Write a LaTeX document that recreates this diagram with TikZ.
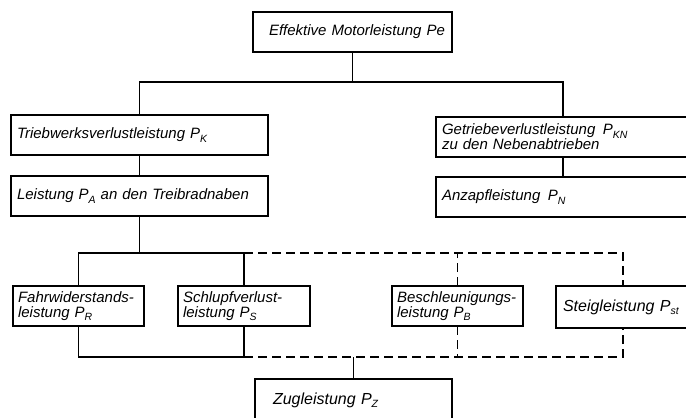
\documentclass[tikz,border=0pt]{standalone}
\usepackage{fontspec}
\newfontfamily\letfam{Liberation Sans}
\newcommand\lettfont{\fontsize{15}{15}\selectfont\letfam\itshape}
\newcommand\lowi[1]{\raisebox{-0.4ex}{\fontsize{10.5}{10.5}\selectfont #1}}
\tikzset{
  box/.style={draw, line width=2.2pt, anchor=north west, inner xsep=6pt,
    inner ysep=0pt, outer sep=0pt, align=left, font=\lettfont},
  conn/.style={line width=1.4pt},
  dconn/.style={line width=1.4pt, dash pattern=on 9pt off 5pt},
}
\begin{document}
\begin{tikzpicture}[x=1pt,y=-1pt]
\useasboundingbox (0,0) rectangle (686,418);
\clip (0,0) rectangle (686,418);
% boxes
\node[box, inner xsep=0pt, text width=199pt, minimum height=40pt] (pe) at (253,12)
  {\hspace*{16pt}\mbox{Effektive Motorleistung Pe}};
\node[box, text width=245pt, minimum height=40pt] (pk) at (11,115)
  {\mbox{Triebwerksverlustleistung P\lowi{K}}};
\node[box, text width=242pt, minimum height=40pt] (pkn) at (436,117)
  {\mbox{Getriebeverlustleistung\enspace P\lowi{KN}}\\\mbox{zu den Nebenabtrieben}};
\node[box, text width=245pt, minimum height=40pt] (pa) at (11,176)
  {\mbox{Leistung P\lowi{A} an den Treibradnaben}};
\node[box, text width=242pt, minimum height=40pt] (pn) at (436,177)
  {\mbox{Anzapfleistung\enspace P\lowi{N}}};
\node[box, inner xsep=5pt, text width=121pt, minimum height=40pt] (pr) at (13,286)
  {\mbox{Fahrwiderstands-}\\\mbox{leistung P\lowi{R}}};
\node[box, inner xsep=5pt, text width=122pt, minimum height=40pt] (ps) at (178,286)
  {\mbox{Schlupfverlust-}\\\mbox{leistung P\lowi{S}}};
\node[box, inner xsep=5pt, text width=121pt, minimum height=40pt] (pb) at (392,286)
  {\mbox{Beschleunigungs-}\\\mbox{leistung P\lowi{B}}};
\node[box, inner xsep=7pt, text width=120pt, minimum height=42pt,
  font=\fontsize{16}{16}\selectfont\letfam\itshape] (pst) at (556,286)
  {\mbox{Steigleistung P\lowi{st}}};
\node[box, inner xsep=18pt, text width=161pt, minimum height=43pt,
  font=\fontsize{16}{16}\selectfont\letfam\itshape] (pz) at (255,379)
  {\mbox{Zugleistung P\lowi{Z}}};
% levels
\coordinate (h1) at (0,82);
\coordinate (h2) at (0,253);
\coordinate (h3) at (0,357);
% connectors
\draw[conn] (pe.south) -- (pe.south |- h1);
\draw[conn] (pk.north) -- (pk.north |- h1) -- (pkn.north |- h1) -- (pkn.north);
\draw[conn] (pk.south) -- (pa.north);
\draw[conn] (pkn.south) -- (pn.north);
\draw[conn] (pa.south) -- (pa.south |- h2);
\draw[conn] (pr.north) -- (pr.north |- h2) -- (ps.north |- h2) -- (ps.north);
\draw[dconn] (ps.north |- h2) -- (pst.north |- h2) -- (pst.north);
\draw[dconn] (pb.north) -- (pb.north |- h2);
\draw[conn] (pr.south) -- (pr.south |- h3) -- (ps.south |- h3) -- (ps.south);
\draw[dconn] (ps.south |- h3) -- (pst.south |- h3) -- (pst.south);
\draw[dconn] (pb.south) -- (pb.south |- h3);
\draw[conn] (pz.north |- h3) -- (pz.north);
\end{tikzpicture}
\end{document}
